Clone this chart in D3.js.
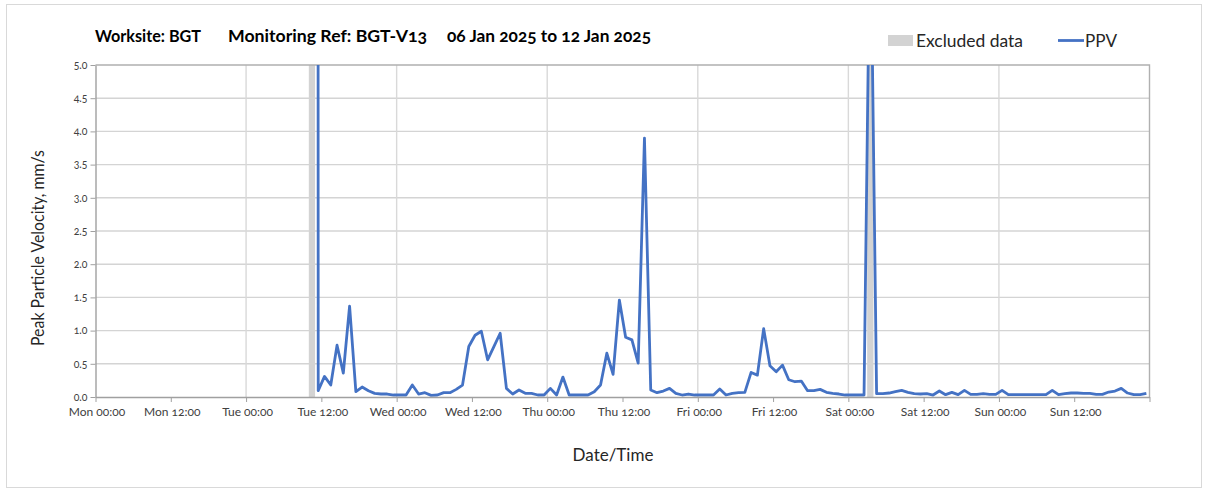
<!DOCTYPE html>
<html>
<head>
<meta charset="utf-8">
<script src="https://cdn.jsdelivr.net/npm/d3@7"></script>
<style>
  html, body { margin: 0; padding: 0; background: #fff; }
  svg { display: block; }
  text { font-family: Lato, "Open Sans", sans-serif; font-variant-numeric: oldstyle-nums; }
</style>
</head>
<body>
<svg id="chart" width="1208" height="490"></svg>
<script>
// ---- data (hours after Mon 06 Jan 2025 00:00) ----
const hoursFromStart = [
  35.38, 35.5, 36.5, 37.5, 38.5, 39.5, 40.5, 41.5, 42.5, 43.5, 44.5, 45.5, 46.5, 47.5,
  48.5, 49.5, 50.5, 51.5, 52.5, 53.5, 54.5, 55.5, 56.5, 57.5, 58.5, 59.5, 60.5, 61.5,
  62.5, 63.5, 64.5, 65.5, 66.5, 67.5, 68.5, 69.5, 70.5, 71.5, 72.5, 73.5, 74.5, 75.5,
  76.5, 77.5, 78.5, 79.5, 80.5, 81.5, 82.5, 83.5, 84.5, 85.5, 86.5, 87.5, 88.5, 89.5,
  90.5, 91.5, 92.5, 93.5, 94.5, 95.5, 96.5, 97.5, 98.5, 99.5, 100.5, 101.5, 102.5, 103.5,
  104.5, 105.5, 106.5, 107.5, 108.5, 109.5, 110.5, 111.5, 112.5, 113.5, 114.5, 115.5, 116.5, 117.5,
  118.5, 119.5, 120.5, 121.5, 122.5, 123.5, 124.5, 125.5, 126.5, 127.5, 128.5, 129.5, 130.5, 131.5,
  132.5, 133.5, 134.5, 135.5, 136.5, 137.5, 138.5, 139.5, 140.5, 141.5, 142.5, 143.5, 144.5, 145.5,
  146.5, 147.5, 148.5, 149.5, 150.5, 151.5, 152.5, 153.5, 154.5, 155.5, 156.5, 157.5, 158.5, 159.5,
  160.5, 161.5, 162.5, 163.5, 164.5, 165.5, 166.5, 167.5
];
const ppv = [
  30, 0.095, 0.31, 0.18, 0.78, 0.36, 1.37, 0.08, 0.15, 0.095, 0.055, 0.045, 0.045, 0.03,
  0.03, 0.03, 0.18, 0.045, 0.065, 0.025, 0.03, 0.065, 0.065, 0.115, 0.18, 0.76, 0.93, 0.99,
  0.56, 0.76, 0.96, 0.13, 0.045, 0.105, 0.055, 0.055, 0.03, 0.03, 0.13, 0.03, 0.30, 0.03,
  0.03, 0.03, 0.03, 0.08, 0.18, 0.66, 0.34, 1.46, 0.90, 0.86, 0.51, 3.90, 0.105, 0.065,
  0.09, 0.13, 0.055, 0.03, 0.045, 0.03, 0.03, 0.03, 0.03, 0.12, 0.03, 0.055, 0.065, 0.07,
  0.37, 0.33, 1.03, 0.47, 0.38, 0.48, 0.26, 0.23, 0.24, 0.095, 0.095, 0.115, 0.07, 0.055,
  0.045, 0.03, 0.03, 0.03, 0.03, 7.6, 0.05, 0.05, 0.06, 0.08, 0.10, 0.07, 0.05, 0.045,
  0.05, 0.03, 0.09, 0.035, 0.07, 0.035, 0.10, 0.04, 0.04, 0.05, 0.04, 0.04, 0.10, 0.035,
  0.035, 0.035, 0.035, 0.035, 0.035, 0.035, 0.10, 0.035, 0.05, 0.06, 0.06, 0.055, 0.055, 0.04,
  0.04, 0.075, 0.09, 0.13, 0.06, 0.035, 0.035, 0.055
];
const excludedStartHours = [34, 123];
const excludedEndHours = [35, 124];
const xTickLabels = ["Mon 00:00", "Mon 12:00", "Tue 00:00", "Tue 12:00", "Wed 00:00", "Wed 12:00",
  "Thu 00:00", "Thu 12:00", "Fri 00:00", "Fri 12:00", "Sat 00:00", "Sat 12:00", "Sun 00:00", "Sun 12:00"];
const yTickValues = [0, 0.5, 1.0, 1.5, 2.0, 2.5, 3.0, 3.5, 4.0, 4.5, 5.0];

// ---- layout ----
const start = new Date(2025, 0, 6, 0, 0, 0);
const end = new Date(2025, 0, 13, 0, 0, 0);
const toDate = h => new Date(start.getTime() + h * 3600e3);
const L = 95.5, R = 1149.5, T = 65, B = 397;

const svg = d3.select("#chart");
const x = d3.scaleTime().domain([start, end]).range([L, R]);
const y = d3.scaleLinear().domain([0, 5]).range([B, T]);

// outer frame
svg.append("rect").attr("x", 6.5).attr("y", 4.5).attr("width", 1195).attr("height", 483)
  .attr("fill", "#fff").attr("stroke", "#d9d9d9").attr("stroke-width", 1);

// clip
svg.append("defs").append("clipPath").attr("id", "plotclip")
  .append("rect").attr("x", L).attr("y", T).attr("width", R - L).attr("height", B - T);

// horizontal gridlines
svg.append("g").selectAll("line").data(yTickValues.filter(v => v > 0 && v < 5)).join("line")
  .attr("x1", L).attr("x2", R).attr("y1", d => y(d)).attr("y2", d => y(d))
  .attr("stroke", "#d4d4d4").attr("stroke-width", 1.4);

// vertical day gridlines
const dayTicks = d3.range(1, 7).map(d => toDate(d * 24));
svg.append("g").selectAll("line").data(dayTicks).join("line")
  .attr("x1", d => x(d)).attr("x2", d => x(d)).attr("y1", T).attr("y2", B)
  .attr("stroke", "#d9d9d9").attr("stroke-width", 1.4);

// excluded data bars
svg.append("g").selectAll("rect").data(excludedStartHours.map((s, i) => [s, excludedEndHours[i]])).join("rect")
  .attr("x", d => x(toDate(d[0]))).attr("width", d => x(toDate(d[1])) - x(toDate(d[0])))
  .attr("y", T).attr("height", B - T).attr("fill", "#d3d3d3");

// top & right border
svg.append("path").attr("d", `M${L},${T}H${R}V${B}`).attr("fill", "none")
  .attr("stroke", "#b0b0b0").attr("stroke-width", 1.4);

// line
const pts = hoursFromStart.map((h, i) => ({ t: toDate(h), v: ppv[i] }));
svg.append("path").datum(pts)
  .attr("clip-path", "url(#plotclip)")
  .attr("fill", "none").attr("stroke", "#4472c4").attr("stroke-width", 2.8)
  .attr("stroke-linejoin", "round")
  .attr("d", d3.line().x(d => x(d.t)).y(d => y(d.v)));

// x axis
const xTickDates = d3.range(0, 15).map(i => toDate(i * 12));
const xAxis = svg.append("g").attr("transform", `translate(0,${B})`)
  .call(d3.axisBottom(x).tickValues(xTickDates).tickSize(5).tickSizeOuter(0)
    .tickFormat((d, i) => xTickLabels[i] || ""));
xAxis.select(".domain").attr("stroke", "#a0a0a0").attr("stroke-width", 1.4);
xAxis.selectAll(".tick line").attr("stroke", "#a0a0a0");
xAxis.selectAll(".tick text").attr("font-size", 12).attr("fill", "#404040").attr("dy", "0.9em")
  .attr("x", 1).style("font-family", "Lato, sans-serif");

// y axis
const yAxis = svg.append("g").attr("transform", `translate(${L},0)`)
  .call(d3.axisLeft(y).tickValues(yTickValues).tickSize(5).tickSizeOuter(0).tickFormat(d3.format(".1f")));
yAxis.select(".domain").attr("stroke", "#a0a0a0").attr("stroke-width", 1.4);
yAxis.selectAll(".tick line").attr("stroke", "#a0a0a0");
yAxis.selectAll(".tick text").attr("font-size", 10.5).attr("fill", "#404040").attr("x", -8);

// titles
const title = svg.append("g").attr("font-weight", "bold").attr("font-size", 17).attr("fill", "#000");
title.append("text").attr("x", 95).attr("y", 42).attr("textLength", 106).attr("lengthAdjust", "spacingAndGlyphs").text("Worksite: BGT");
title.append("text").attr("x", 228).attr("y", 42).attr("textLength", 199).attr("lengthAdjust", "spacingAndGlyphs").text("Monitoring Ref: BGT-V13");
title.append("text").attr("x", 447).attr("y", 42).attr("textLength", 204).attr("lengthAdjust", "spacingAndGlyphs").text("06 Jan 2025 to 12 Jan 2025");

svg.append("text").attr("x", 613).attr("y", 461).attr("text-anchor", "middle")
  .attr("font-size", 17).attr("fill", "#262626").text("Date/Time");
svg.append("text").attr("transform", "translate(44,248) rotate(-90)").attr("text-anchor", "middle")
  .attr("font-size", 16.5).attr("fill", "#262626")
  .attr("textLength", 196).attr("lengthAdjust", "spacingAndGlyphs").text("Peak Particle Velocity, mm/s");

// legend
const lg = svg.append("g");
lg.append("rect").attr("x", 888).attr("y", 35).attr("width", 25).attr("height", 11).attr("fill", "#d3d3d3");
lg.append("text").attr("x", 916).attr("y", 47).attr("font-size", 17).attr("fill", "#262626")
  .attr("textLength", 107).attr("lengthAdjust", "spacingAndGlyphs").text("Excluded data");
lg.append("line").attr("x1", 1058).attr("x2", 1084).attr("y1", 40.5).attr("y2", 40.5)
  .attr("stroke", "#4472c4").attr("stroke-width", 2.8);
lg.append("text").attr("x", 1085).attr("y", 47).attr("font-size", 17).attr("fill", "#262626")
  .attr("textLength", 32).attr("lengthAdjust", "spacingAndGlyphs").text("PPV");
</script>
</body>
</html>
